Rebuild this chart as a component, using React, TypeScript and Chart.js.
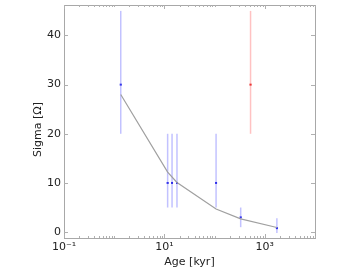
import { useEffect, useRef } from 'react';
import { Chart, registerables } from 'chart.js';
Chart.register(...registerables);

const ages = [1.35, 11.6, 14.2, 17.8, 107, 331, 1740];
const sigma = [30, 10, 10, 10, 10, 3, 0.8];
const sigmaLow = [20, 5, 5, 5, 5, 1, -0.2];
const sigmaHigh = [45, 20, 20, 20, 20, 5, 2.8];

const redAges = [520];
const redSigma = [30];
const redLow = [20];
const redHigh = [45];

const modelAges = [1.35, 11.6, 17.8, 107, 331, 1740];
const modelSigma = [28, 12.2, 10.1, 4.7, 2.7, 0.93];

const yTicks = [0, 10, 20, 30, 40];
const xMajor = [0.1, 10, 1000];
const xMajorLabels = ['10⁻¹', '10¹', '10³'];
const yTitle = 'Sigma [Ω]';

const FONT = "'DejaVu Sans', sans-serif";

export default function App() {
  const ref = useRef<HTMLCanvasElement>(null);
  useEffect(() => {
    document.body.style.margin = '0';
    const canvas = ref.current!;
    const xAll: number[] = [];
    for (let e = -1; e < 4; e++) {
      for (let k = 1; k <= 9; k++) xAll.push(k * Math.pow(10, e));
    }
    xAll.push(10000);

    const datasets: any[] = [];
    datasets.push({
      data: modelAges.map((x, i) => ({ x, y: modelSigma[i] })),
      showLine: true,
      borderColor: '#a0a0a0',
      borderWidth: 1.2,
      pointRadius: 0,
    });
    ages.forEach((a, i) => {
      datasets.push({
        data: [{ x: a, y: sigmaLow[i] }, { x: a, y: sigmaHigh[i] }],
        showLine: true,
        borderColor: 'rgba(120,120,255,0.45)',
        borderWidth: 1.5,
        pointRadius: 0,
      });
    });
    redAges.forEach((a, i) => {
      datasets.push({
        data: [{ x: a, y: redLow[i] }, { x: a, y: redHigh[i] }],
        showLine: true,
        borderColor: 'rgba(255,120,120,0.45)',
        borderWidth: 1.5,
        pointRadius: 0,
      });
    });
    datasets.push({
      data: ages.map((x, i) => ({ x, y: sigma[i] })),
      pointStyle: 'rect',
      pointRadius: 1.4,
      backgroundColor: '#0000dd',
      borderWidth: 0,
    });
    datasets.push({
      data: redAges.map((x, i) => ({ x, y: redSigma[i] })),
      pointStyle: 'rect',
      pointRadius: 1.4,
      backgroundColor: '#dd0000',
      borderWidth: 0,
    });

    const framePlugin = {
      id: 'frame',
      afterDraw(chart: any) {
        const { ctx, chartArea: ca, scales } = chart;
        ctx.save();
        ctx.strokeStyle = '#a8a8a8';
        ctx.lineWidth = 1;
        ctx.strokeRect(Math.round(ca.left) + 0.5, Math.round(ca.top) + 0.5, Math.round(ca.right - ca.left), Math.round(ca.bottom - ca.top));
        ctx.strokeStyle = '#b0b0b0';
        ctx.beginPath();
        xAll.forEach((v) => {
          const px = Math.round(scales.x.getPixelForValue(v)) + 0.5;
          const major = xMajor.includes(v);
          const len = major ? 4 : 2;
          ctx.moveTo(px, ca.bottom);
          ctx.lineTo(px, ca.bottom - len);
          ctx.moveTo(px, ca.top);
          ctx.lineTo(px, ca.top + len);
        });
        yTicks.forEach((v) => {
          const py = Math.round(scales.y.getPixelForValue(v)) + 0.5;
          ctx.moveTo(ca.left, py);
          ctx.lineTo(ca.left + 4, py);
          ctx.moveTo(ca.right, py);
          ctx.lineTo(ca.right - 4, py);
        });
        ctx.stroke();
        // y axis title
        ctx.translate(38, (ca.top + ca.bottom) / 2 + 8);
        ctx.rotate(-Math.PI / 2);
        ctx.fillStyle = '#222';
        ctx.font = `11px ${FONT}`;
        ctx.textAlign = 'center';
        ctx.textBaseline = 'middle';
        ctx.fillText(yTitle, 0, 0);
        ctx.restore();
      },
    };

    const zeroPad = (s: any) => {
      s.paddingTop = 0;
      s.paddingBottom = 0;
      s.paddingLeft = 0;
      s.paddingRight = 0;
    };

    const chart = new Chart(canvas, {
      type: 'scatter',
      data: { datasets },
      plugins: [framePlugin],
      options: {
        animation: false,
        responsive: false,
        maintainAspectRatio: false,
        layout: { padding: { top: 5, right: 39, left: 0, bottom: 0 } },
        plugins: { legend: { display: false }, tooltip: { enabled: false } },
        scales: {
          x: {
            type: 'logarithmic',
            min: 0.1,
            max: 10000,
            grid: { display: false, drawTicks: false },
            border: { display: false },
            afterBuildTicks: (s: any) => {
              s.ticks = xMajor.map((v) => ({ value: v, major: true }));
            },
            afterFit: (s: any) => {
              s.height = 273 - 238;
              zeroPad(s);
            },
            ticks: {
              autoSkip: false,
              maxRotation: 0,
              padding: 3,
              color: '#222',
              font: { family: FONT, size: 11 },
              callback: (v: any) => {
                const i = xMajor.indexOf(Number(v));
                return i >= 0 ? xMajorLabels[i] : '';
              },
            },
            title: {
              display: true,
              text: 'Age [kyr]',
              color: '#222',
              font: { family: FONT, size: 11 },
              padding: { top: 0, bottom: 4 },
            },
          },
          y: {
            min: -1.2,
            max: 46.2,
            grid: { display: false, drawTicks: false },
            border: { display: false },
            afterBuildTicks: (s: any) => {
              s.ticks = yTicks.map((v) => ({ value: v }));
            },
            afterFit: (s: any) => {
              s.width = 64;
              zeroPad(s);
            },
            ticks: {
              padding: 3,
              color: '#222',
              font: { family: FONT, size: 11 },
            },
            title: { display: false },
          },
        },
      },
    });
    return () => chart.destroy();
  }, []);
  return (
    <div style={{ position: 'absolute', left: 0, top: 0, width: 354, height: 273 }}>
      <canvas ref={ref} width={354} height={273} />
    </div>
  );
}
